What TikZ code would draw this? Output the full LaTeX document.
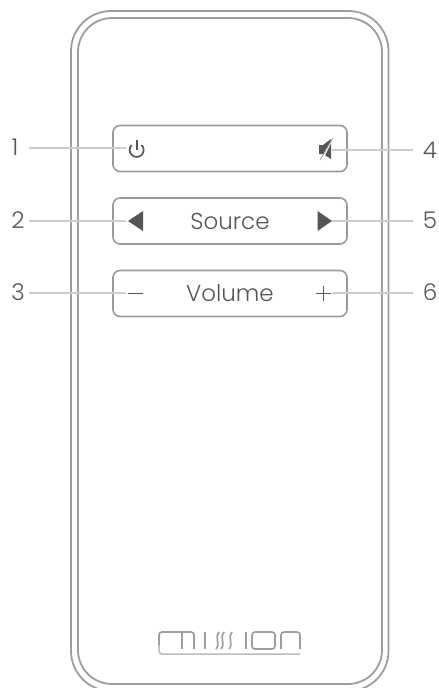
\documentclass[tikz,border=0pt]{standalone}
\usepackage{fontspec}
\setmainfont{Poppins Light}
\definecolor{shell}{HTML}{9C9CA2}
\definecolor{btn}{HTML}{9A9A9A}
\definecolor{leader}{HTML}{CCCCCC}
\definecolor{ink}{HTML}{555555}
\definecolor{logo}{HTML}{9E9E9E}
\tikzset{
  shellline/.style={draw=shell,line width=1.8pt},
  buttonbox/.style={draw=btn,line width=1.6pt,rounded corners=7pt,minimum width=234pt,minimum height=46pt,inner sep=0pt},
  leaderline/.style={draw=leader,line width=2pt},
  numlabel/.style={text=ink,font=\fontsize{23}{23}\selectfont,inner sep=0pt},
  btnlabel/.style={text=ink,font=\fontsize{23}{23}\selectfont,inner sep=0pt},
  logoline/.style={draw=logo,line width=1.7pt},
  logobase/.style={draw=logo!70,line width=1.5pt},
}
\begin{document}
\begin{tikzpicture}[x=1pt,y=-1pt]
\useasboundingbox (0,0) rectangle (439,688);
% shell
\draw[shellline,rounded corners=40pt] (71,11) rectangle (388.5,691);
\draw[shellline,rounded corners=34pt] (78,18) rectangle (382,684);
% buttons
\node[buttonbox] (b1) at (230,148.5) {};
\node[buttonbox] (b2) at (230,221) {};
\node[buttonbox] (b3) at (230,293.5) {};
% button labels
\node[btnlabel] (src) at (230,221) {Source};
\node[btnlabel] (vol) at (230,293) {Volume};
% numbers
\node[numlabel] (n1) at (15,147) {1};
\node[numlabel] (n2) at (18,220) {2};
\node[numlabel] (n3) at (18,292) {3};
\node[numlabel] (n4) at (430,150) {4};
\node[numlabel] (n5) at (430,220) {5};
\node[numlabel] (n6) at (430,292) {6};
% anchors of the icons
\coordinate (i1) at (126,148);
\coordinate (i2) at (126,221);
\coordinate (i3) at (126,293);
\coordinate (i4) at (332,150);
\coordinate (i5) at (332,221);
\coordinate (i6) at (332,293);
% leaders
\draw[leaderline] (29,148) -- (i1);
\draw[leaderline] (29,221) -- (i2);
\draw[leaderline] (29,293) -- (i3);
\draw[leaderline] (i4) -- (413,150);
\draw[leaderline] (i5) -- (413,221);
\draw[leaderline] (i6) -- (413,293);
% icons
\draw[ink,line width=1.7pt] (141.6,145) arc[start angle=45,end angle=-225,radius=7pt];
\draw[ink,line width=1.7pt] (136.7,140) -- (136.7,150);
\fill[ink] (128,221) -- (143,211) -- (143,231) -- cycle;
\fill[ink] (317.5,211) -- (332,221) -- (317.5,231) -- cycle;
\draw[ink,line width=0.9pt] (128,293) -- (143,293);
\draw[ink,line width=0.9pt] (316,293) -- (331,293) (323.5,285.5) -- (323.5,300.5);
\fill[ink] (319,145) -- (323,145) -- (331,139) -- (331,159) -- (323,154) -- (319,154) -- cycle;
\draw[white,line width=1.3pt] (322,160) -- (333,138);
\draw[logo,line width=0.8pt] (320,160) -- (333,138);
% logo
\draw[logobase,rounded corners=3pt] (300,654) -- (159,654) -- (159,640);
\draw[logoline,rounded corners=3pt] (159,645) -- (159,632) -- (194,632) -- (194,649);
\draw[logoline] (182,632) -- (182,649);
\draw[logoline] (205,632) -- (205,649);
\draw[logoline] (219,632) .. controls (214,636) and (221,644) .. (216,649);
\draw[logoline] (224,632) .. controls (219,636) and (226,644) .. (221,649);
\draw[logoline] (232,632) .. controls (227,636) and (234,644) .. (229,649);
\draw[logoline] (246,632) -- (246,649);
\draw[logoline,rounded corners=3pt] (252,632) rectangle (275,649);
\draw[logoline,rounded corners=3pt] (281,649) -- (281,632) -- (300,632) -- (300,649);
\end{tikzpicture}
\end{document}
